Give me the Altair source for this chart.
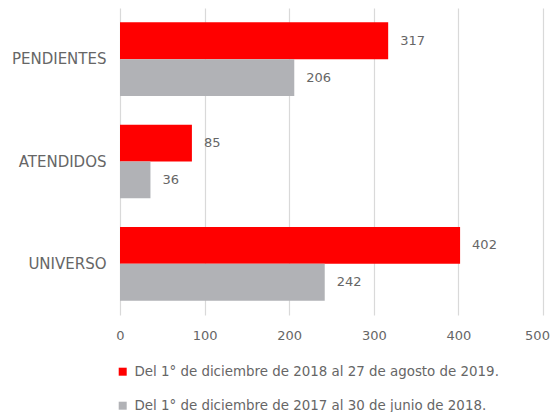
import altair as alt
import pandas as pd

FONT = "DejaVu Sans"
TEXT_COLOR = "#666666"

categorias = ["PENDIENTES", "ATENDIDOS", "UNIVERSO"]
serie_2019 = [317, 85, 402]
serie_2018 = [206, 36, 242]
nombres = [
    "Del 1° de diciembre de 2018 al 27 de agosto de 2019.",
    "Del 1° de diciembre de 2017 al 30 de junio de 2018.",
]
colores = ["#FF0000", "#B1B2B6"]
ticks_x = [0, 100, 200, 300, 400, 500]

rows = []
for c, a, b in zip(categorias, serie_2019, serie_2018):
    rows.append({"cat": c, "serie": nombres[0], "valor": a})
    rows.append({"cat": c, "serie": nombres[1], "valor": b})
df = pd.DataFrame(rows)

y = alt.Y(
    "cat:N",
    sort=categorias,
    title=None,
    scale=alt.Scale(paddingInner=0.28, paddingOuter=0.14),
    axis=alt.Axis(
        domain=False, ticks=False, labelPadding=14, labelFontSize=15,
        labelColor=TEXT_COLOR, labelFont=FONT,
    ),
)
yoff = alt.YOffset("serie:N", sort=nombres, scale=alt.Scale(paddingInner=0, paddingOuter=0))
x = alt.X(
    "valor:Q",
    title=None,
    scale=alt.Scale(domain=[0, 500], nice=False),
    axis=alt.Axis(
        values=ticks_x, grid=True, gridColor="#D9D9D9", gridWidth=1.2,
        domain=False, ticks=False, labelPadding=14, labelFontSize=13,
        labelColor=TEXT_COLOR, labelFont=FONT, labelFlush=False,
        labelOffset={"condition": {"test": "datum.value == 500", "value": -6}, "value": 0},
    ),
)
color = alt.Color(
    "serie:N",
    sort=nombres,
    scale=alt.Scale(domain=nombres, range=colores),
    legend=alt.Legend(
        title=None, orient="none", legendX=-4, legendY=357, direction="vertical",
        symbolType="square", symbolSize=64, symbolStrokeWidth=0, symbolOpacity=1,
        labelFontSize=13.4, labelColor=TEXT_COLOR, labelFont=FONT,
        rowPadding=19, labelOffset=5, labelLimit=500,
    ),
)

bars = alt.Chart(df).mark_bar().encode(x=x, y=y, yOffset=yoff, color=color)
labels = alt.Chart(df).mark_text(
    align="left", baseline="middle", dx=12, fontSize=13, color=TEXT_COLOR, font=FONT
).encode(x=x, y=y, yOffset=yoff, text="valor:Q")

chart = (
    alt.layer(bars, labels)
    .properties(
        width=423, height=307,
        padding={"left": 112, "top": 0, "right": 7, "bottom": 110},
        autosize=alt.AutoSizeParams(type="none"),
    )
    .configure_view(stroke=None)
)

chart.save("out.html", embed_options={"renderer": "svg", "actions": False})
